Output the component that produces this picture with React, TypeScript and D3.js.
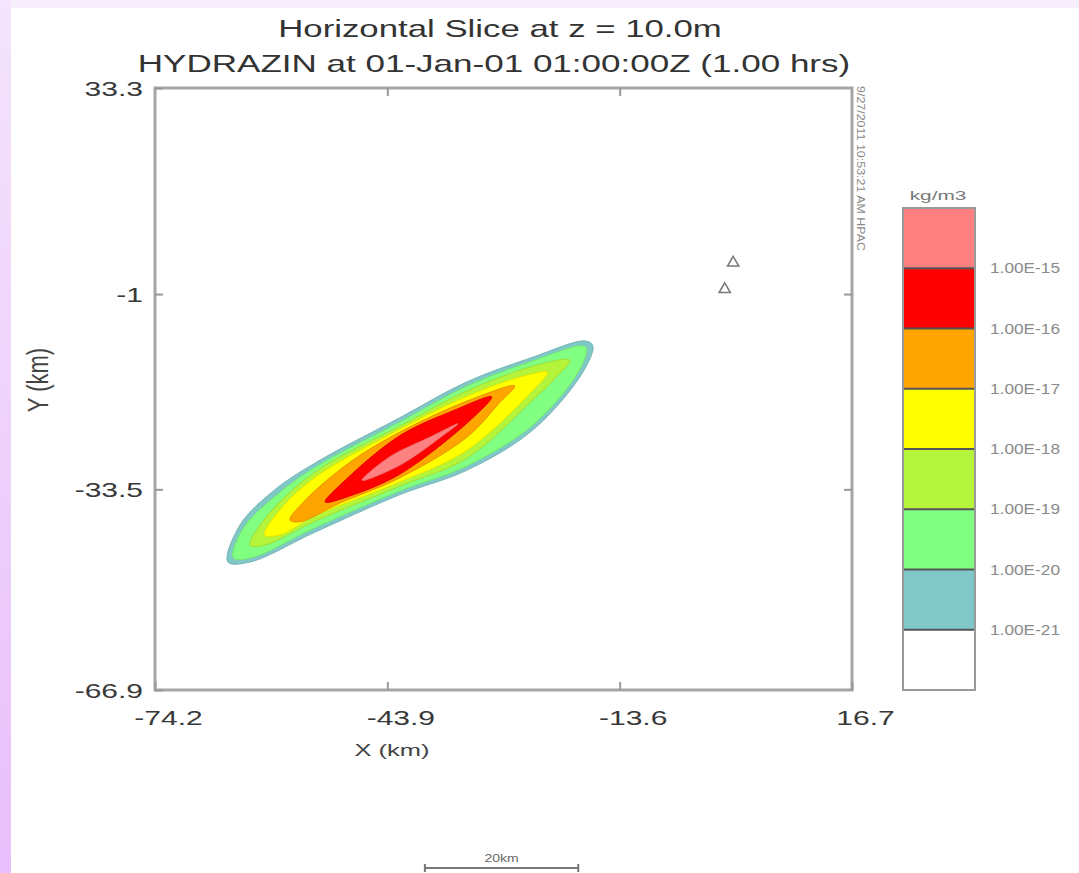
import React, { useEffect, useRef } from "react";
import * as d3 from "d3";

// axis ticks (km)
const xTicks = [-74.2, -43.9, -13.6, 16.7];
const yTicks = [33.3, -1, -33.5, -66.9];

// colour bar, highest band on top
const bandColors = ["#ff8080", "#ff0000", "#ffa500", "#ffff00", "#b4f53c", "#80ff80", "#80c8c8", "#ffffff"];
const bandLabels = ["1.00E-15", "1.00E-16", "1.00E-17", "1.00E-18", "1.00E-19", "1.00E-20", "1.00E-21"];

// plume contour outlines, [x km, y km]
const contourE21 = [
  [-64.7, -45.6], [-63.1, -39.4], [-58.6, -33.6], [-53.3, -29.1], [-42.3, -21.6], [-33.5, -15.6],
  [-24.9, -11.5], [-18.1, -8.8], [-17.1, -9.6], [-18.4, -14.0], [-24.9, -23.6], [-33.5, -30.3],
  [-42.3, -34.4], [-53.3, -40.6], [-61.8, -45.6],
];
const contourE20 = [
  [-64.0, -44.9], [-62.6, -39.8], [-58.2, -34.3], [-53.3, -29.8], [-42.3, -22.3], [-33.5, -16.3],
  [-24.9, -12.1], [-18.5, -9.6], [-17.9, -10.1], [-19.0, -14.0], [-24.9, -22.8], [-33.5, -29.6],
  [-42.3, -33.8], [-53.3, -39.9], [-61.6, -44.9],
];
const contourE19 = [
  [-61.8, -42.8], [-59.5, -37.8], [-53.3, -30.6], [-42.3, -23.0], [-33.5, -17.1], [-24.9, -13.0],
  [-20.1, -12.0], [-22.0, -15.0], [-24.9, -18.6], [-33.5, -28.3], [-42.3, -33.0], [-53.3, -38.8],
  [-59.9, -42.8],
];
const contourE18 = [
  [-59.9, -41.1], [-57.9, -36.9], [-53.3, -31.5], [-42.3, -23.5], [-33.5, -18.0], [-26.0, -14.6],
  [-23.0, -14.0], [-24.6, -16.6], [-33.5, -27.0], [-42.3, -32.3], [-53.3, -37.9], [-57.9, -41.1],
];
const contourE17 = [
  [-56.6, -38.6], [-54.6, -35.3], [-48.8, -29.0], [-42.3, -24.0], [-33.5, -18.8], [-27.3, -16.3],
  [-29.2, -19.0], [-33.5, -24.8], [-42.3, -31.6], [-50.1, -35.8], [-55.3, -38.9],
];
const contourE16 = [
  [-52.0, -35.6], [-49.4, -32.0], [-42.3, -24.6], [-35.1, -20.3], [-30.3, -18.1], [-33.1, -22.0],
  [-42.3, -31.0], [-48.8, -34.6],
];
const contourE15 = [
  [-47.2, -32.0], [-43.6, -28.1], [-38.3, -24.8], [-34.7, -22.6], [-36.4, -24.3], [-42.3, -29.5],
];

// receptor markers (km)
const receptors = [
  [1.2, 4.2],
  [0.1, -0.2],
];

// scale bar ends (km) -> 20km
const scaleBar = [-39, -19];

const W = 1079;
const H = 873;
const FONT = "'Liberation Sans', Arial, sans-serif";

const App = () => {
  const container = useRef<SVGSVGElement>(null);

  useEffect(() => {
    const svg = d3.select(container.current);
    svg.selectAll("*").remove();

    const margin = { left: 155, right: 852, top: 88, bottom: 690 };

    // page background + lavender edge
    const grad = svg
      .append("defs")
      .append("linearGradient")
      .attr("id", "edge")
      .attr("x1", 0)
      .attr("y1", 0)
      .attr("x2", 0)
      .attr("y2", 1);
    grad.append("stop").attr("offset", "0%").attr("stop-color", "#f4e4fc");
    grad.append("stop").attr("offset", "100%").attr("stop-color", "#e8bffb");
    svg.append("rect").attr("width", W).attr("height", H).attr("fill", "#ffffff");
    svg.append("rect").attr("width", W).attr("height", 8).attr("fill", "#f7effc");
    svg.append("rect").attr("width", 11).attr("height", H).attr("fill", "url(#edge)");

    const xScale = d3.scaleLinear().domain([-74.2, 16.7]).range([margin.left, margin.right]);
    const yScale = d3.scaleLinear().domain([-66.9, 33.3]).range([margin.bottom, margin.top]);

    // stretched text helper (the source picture is wide)
    const label = (str, tx, ty, size, sx, anchor, fill) =>
      svg
        .append("text")
        .attr("transform", `translate(${tx},${ty}) scale(${sx},1)`)
        .attr("text-anchor", anchor)
        .attr("font-family", FONT)
        .attr("font-size", size)
        .attr("fill", fill)
        .text(str);

    // titles
    label("Horizontal Slice at z = 10.0m", 500, 37, 24, 1.45, "middle", "#333");
    label("HYDRAZIN at 01-Jan-01 01:00:00Z (1.00 hrs)", 494, 72, 24, 1.46, "middle", "#333");

    // plume contours
    const line = d3
      .line()
      .x((d) => xScale(d[0]))
      .y((d) => yScale(d[1]))
      .curve(d3.curveCatmullRomClosed.alpha(0.5));

    const contours = [
      { pts: contourE21, color: bandColors[6] },
      { pts: contourE20, color: bandColors[5] },
      { pts: contourE19, color: bandColors[4] },
      { pts: contourE18, color: bandColors[3] },
      { pts: contourE17, color: bandColors[2] },
      { pts: contourE16, color: bandColors[1] },
      { pts: contourE15, color: bandColors[0] },
    ];
    svg
      .append("g")
      .selectAll("path")
      .data(contours)
      .join("path")
      .attr("d", (d) => line(d.pts))
      .attr("fill", (d) => d.color)
      .attr("stroke", (d) => d3.color(d.color).darker(0.3).toString())
      .attr("stroke-width", 1);

    // receptors
    svg
      .append("g")
      .selectAll("path")
      .data(receptors)
      .join("path")
      .attr("transform", (d) => `translate(${xScale(d[0])},${yScale(d[1])})`)
      .attr("d", d3.symbol(d3.symbolTriangle, 55))
      .attr("fill", "none")
      .attr("stroke", "#777")
      .attr("stroke-width", 1.5);

    // frame
    svg
      .append("rect")
      .attr("x", margin.left)
      .attr("y", margin.top)
      .attr("width", margin.right - margin.left)
      .attr("height", margin.bottom - margin.top)
      .attr("fill", "none")
      .attr("stroke", "#a5a5a5")
      .attr("stroke-width", 3);

    // axes
    const fmt = (d) => `${d}`;
    const xAxis = svg
      .append("g")
      .attr("transform", `translate(0,${margin.bottom})`)
      .call(d3.axisBottom(xScale).tickValues(xTicks).tickFormat(fmt).tickSizeInner(-8).tickSizeOuter(0));
    xAxis.select(".domain").remove();
    xAxis.selectAll("line").attr("stroke", "#999").attr("stroke-width", 2);
    xAxis
      .selectAll("text")
      .attr("y", 0)
      .attr("dy", 0)
      .attr("transform", "translate(13,35) scale(1.5,1)")
      .attr("font-family", FONT)
      .attr("font-size", 20)
      .attr("fill", "#383838");

    const yAxis = svg
      .append("g")
      .attr("transform", `translate(${margin.left},0)`)
      .call(d3.axisLeft(yScale).tickValues(yTicks).tickFormat(fmt).tickSizeInner(-8).tickSizeOuter(0));
    yAxis.select(".domain").remove();
    yAxis.selectAll("line").attr("stroke", "#999").attr("stroke-width", 2);
    yAxis
      .selectAll("text")
      .attr("x", 0)
      .attr("dy", "0.36em")
      .attr("transform", "translate(-12,0) scale(1.5,1)")
      .attr("font-family", FONT)
      .attr("font-size", 20)
      .attr("fill", "#383838");

    const topAxis = svg
      .append("g")
      .attr("transform", `translate(0,${margin.top})`)
      .call(d3.axisTop(xScale).tickValues(xTicks.slice(1, 3)).tickSizeInner(-8).tickSizeOuter(0).tickFormat(() => ""));
    topAxis.select(".domain").remove();
    topAxis.selectAll("line").attr("stroke", "#999").attr("stroke-width", 2);

    const rightAxis = svg
      .append("g")
      .attr("transform", `translate(${margin.right},0)`)
      .call(d3.axisRight(yScale).tickValues(yTicks.slice(1, 3)).tickSizeInner(-8).tickSizeOuter(0).tickFormat(() => ""));
    rightAxis.select(".domain").remove();
    rightAxis.selectAll("line").attr("stroke", "#999").attr("stroke-width", 2);

    // axis titles
    label("X (km)", 392, 756, 17, 1.5, "middle", "#444");
    svg
      .append("text")
      .attr("transform", "translate(48,380) rotate(-90) scale(1,1.3)")
      .attr("text-anchor", "middle")
      .attr("font-family", FONT)
      .attr("font-size", 22)
      .attr("fill", "#444")
      .text("Y (km)");

    // run stamp along the right edge
    svg
      .append("text")
      .attr("transform", "translate(857,86) rotate(90)")
      .attr("font-family", FONT)
      .attr("font-size", 11)
      .attr("fill", "#888")
      .attr("textLength", 165)
      .attr("lengthAdjust", "spacingAndGlyphs")
      .text("9/27/2011 10:53:21 AM HPAC");

    // colour bar
    const barX = 903;
    const barW = 72;
    const barScale = d3.scaleBand().domain(d3.range(bandColors.length)).range([208, 690]);
    const bar = svg.append("g");
    bar
      .selectAll("rect")
      .data(bandColors)
      .join("rect")
      .attr("x", barX)
      .attr("y", (d, i) => barScale(i))
      .attr("width", barW)
      .attr("height", barScale.bandwidth())
      .attr("fill", (d) => d);
    bar
      .selectAll("line")
      .data(bandLabels)
      .join("line")
      .attr("x1", barX)
      .attr("x2", barX + barW)
      .attr("y1", (d, i) => barScale(i + 1))
      .attr("y2", (d, i) => barScale(i + 1))
      .attr("stroke", "#555")
      .attr("stroke-width", 2);
    bar
      .append("rect")
      .attr("x", barX)
      .attr("y", 208)
      .attr("width", barW)
      .attr("height", 482)
      .attr("fill", "none")
      .attr("stroke", "#9a9a9a")
      .attr("stroke-width", 2);
    bandLabels.forEach((t, i) => {
      label(t, 990, barScale(i + 1) + 5, 15, 1.15, "start", "#8a8a8a");
    });
    label("kg/m3", 938, 200, 13, 1.6, "middle", "#777");

    // scale bar
    const sb = svg.append("g").attr("stroke", "#777").attr("stroke-width", 2);
    sb.append("line")
      .attr("x1", xScale(scaleBar[0]))
      .attr("x2", xScale(scaleBar[1]))
      .attr("y1", 868)
      .attr("y2", 868);
    scaleBar.forEach((v) => {
      sb.append("line").attr("x1", xScale(v)).attr("x2", xScale(v)).attr("y1", 864).attr("y2", 872);
    });
    label("20km", (xScale(scaleBar[0]) + xScale(scaleBar[1])) / 2, 862, 10, 1.4, "middle", "#666");
  }, []);

  return (
    <svg
      ref={container}
      width={W}
      height={H}
      style={{ position: "absolute", left: 0, top: 0, display: "block" }}
    />
  );
};

export default App;
